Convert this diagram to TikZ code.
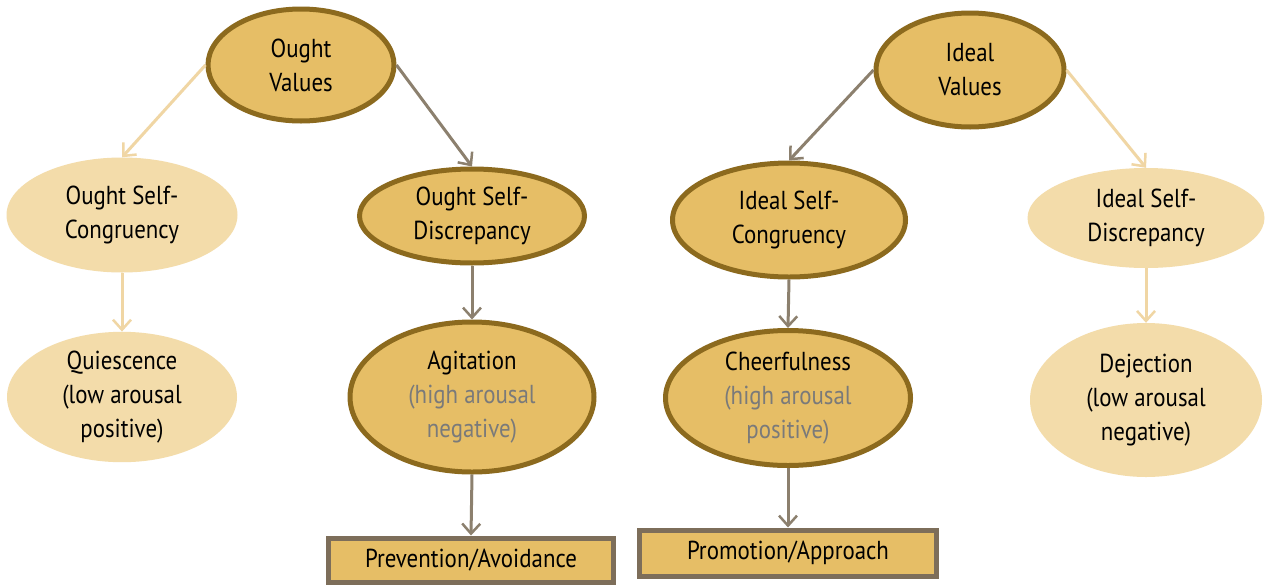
\documentclass[tikz,border=0pt]{standalone}
\usepackage{fontspec}
\setmainfont{PT Sans}[FakeStretch=0.88]
\usetikzlibrary{shapes.geometric,arrows.meta}
\definecolor{gold}{HTML}{E6BE66}
\definecolor{goldborder}{HTML}{8C6A1E}
\definecolor{lightgold}{HTML}{F3DCAA}
\definecolor{lightarrow}{HTML}{F0D6A4}
\definecolor{darkarrow}{HTML}{8C806E}
\definecolor{rectborder}{HTML}{7D6E5A}
\definecolor{subtext}{HTML}{7A7A7A}
\tikzset{
  txt/.style={align=center, font=\fontsize{26}{34}\selectfont, text=black, inner sep=0pt},
  darkell/.style={txt, ellipse, fill=gold, draw=goldborder, line width=5pt},
  lightell/.style={txt, ellipse, fill=lightgold},
  actbox/.style={txt, rectangle, fill=gold, draw=rectborder, line width=5pt},
  darkarr/.style={draw=darkarrow, line width=3pt, -{Straight Barb[length=10pt,width=18pt,line width=2.5pt]}},
  lightarr/.style={draw=lightarrow, line width=3pt, -{Straight Barb[length=10pt,width=18pt,line width=2.5pt]}},
}
\begin{document}
\begin{tikzpicture}[x=1pt,y=-1pt]
\useasboundingbox[fill=white] (0,0) rectangle (1266,584);
% top
\node[darkell, minimum width=186pt, minimum height=112pt] (ov) at (301,65) {Ought\\Values};
\node[darkell, minimum width=188pt, minimum height=114pt] (iv) at (970,70) {Ideal\\Values};
% second row
\node[lightell, minimum width=231pt, minimum height=115pt] (osc) at (122,215) {Ought Self-\\Congruency};
\node[darkell, minimum width=225pt, minimum height=94pt] (osd) at (472,216) {Ought Self-\\Discrepancy};
\node[darkell, minimum width=233pt, minimum height=114pt] (isc) at (789,220) {Ideal Self-\\Congruency};
\node[lightell, minimum width=237pt, minimum height=100pt] (isd) at (1146,218) {Ideal Self-\\Discrepancy};
% third row
\node[lightell, minimum width=230pt, minimum height=113pt] (qui) at (122,397) {Quiescence\\(low arousal\\positive)};
\node[darkell, minimum width=244pt, minimum height=150pt] (agi) at (472,397) {Agitation\\\textcolor{subtext}{(high arousal}\\\textcolor{subtext}{negative)}};
\node[darkell, minimum width=245pt, minimum height=135pt] (che) at (788,398) {Cheerfulness\\\textcolor{subtext}{(high arousal}\\\textcolor{subtext}{positive)}};
\node[lightell, minimum width=232pt, minimum height=154pt] (dej) at (1146,400) {Dejection\\(low arousal\\negative)};
% boxes
\node[actbox, minimum width=285pt, minimum height=44pt] (prev) at (471,560) {Prevention/Avoidance};
\node[actbox, minimum width=297pt, minimum height=46pt] (prom) at (788,553) {Promotion/Approach};
% arrows
\draw[lightarr] (ov.west) -- (osc.north);
\draw[darkarr] (ov.east) -- (osd.north);
\draw[darkarr] (iv.west) -- (isc.north);
\draw[lightarr] (iv.east) -- (isd.north);
\draw[lightarr] (osc.south) -- (qui.north);
\draw[darkarr] (osd.south) -- (agi.north);
\draw[darkarr] (isc.south) -- (che.north);
\draw[lightarr] (isd.south) -- (dej.north);
\draw[darkarr] (agi.south) -- (prev.north);
\draw[darkarr] (che.south) -- (prom.north);
\end{tikzpicture}
\end{document}
